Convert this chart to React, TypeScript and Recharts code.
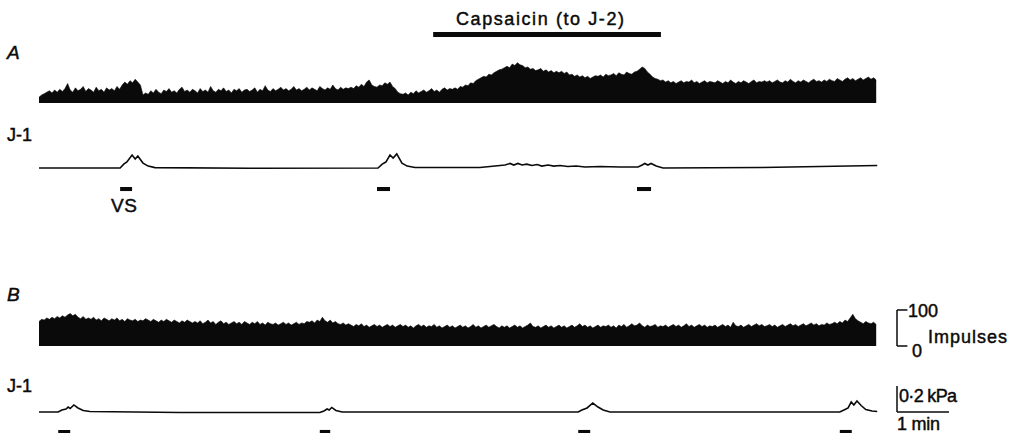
import React from 'react'
import { AreaChart, Area, LineChart, Line, XAxis, YAxis, ReferenceArea, ReferenceLine } from 'recharts'

// time axis in minutes, 1 min = 52 px, plot starts at x = 39
const PX_PER_MIN = 52
const LEFT = 39
const WIDTH = 1023
const X_MAX = (WIDTH - LEFT) / PX_PER_MIN
const BIN_MIN = 0.05

// impulses per bin, panel A (3 s bins, one row per minute)
const histA = [
  16, 22, 26, 30, 34, 28, 36, 30, 38, 32, 40, 54, 36, 30, 42, 34, 38, 46, 32, 40,
  36, 30, 44, 34, 38, 30, 42, 36, 40, 34, 46, 38, 50, 58, 52, 62, 56, 66, 58, 50,
  22, 28, 24, 34, 28, 38, 30, 26, 36, 32, 40, 30, 34, 28, 38, 44, 32, 36, 30, 38,
  34, 28, 40, 32, 36, 30, 46, 34, 30, 38, 34, 42, 32, 36, 28, 38, 34, 40, 30, 36,
  38, 32, 36, 42, 30, 38, 34, 48, 36, 32, 40, 34, 38, 44, 36, 40, 34, 38, 46, 36,
  40, 34, 38, 44, 36, 42, 38, 34, 46, 40, 36, 42, 38, 50, 40, 36, 44, 38, 42, 40,
  44, 40, 48, 44, 52, 46, 58, 64, 50, 46, 44, 50, 48, 56, 52, 58, 46, 40, 30, 26,
  24, 28, 22, 30, 26, 34, 28, 32, 36, 30, 34, 40, 32, 36, 30, 38, 42, 36, 40, 38,
  42, 38, 46, 44, 50, 48, 56, 54, 62, 66, 70, 74, 72, 80, 78, 84, 88, 92, 94, 98,
  102, 98, 108, 104, 112, 106, 104, 98, 100, 94, 96, 90, 92, 96, 88, 92, 86, 90, 84, 88,
  84, 88, 82, 86, 78, 80, 74, 78, 72, 76, 70, 74, 68, 72, 76, 74, 78, 72, 80, 76,
  78, 82, 76, 84, 80, 78, 86, 82, 80, 86, 88, 94, 100, 96, 86, 80, 72, 68, 66, 62,
  64, 58, 62, 56, 60, 54, 58, 62, 56, 60, 58, 64, 56, 60, 54, 58, 62, 56, 60, 58,
  56, 62, 58, 54, 60, 56, 64, 58, 54, 60, 56, 62, 58, 54, 60, 64, 56, 60, 58, 62,
  58, 62, 56, 60, 64, 58, 56, 62, 58, 66, 60, 56, 62, 58, 64, 60, 56, 62, 66, 60,
  62, 58, 64, 60, 66, 62, 60, 68, 64, 60, 66, 70, 64, 68, 62, 66, 70, 64, 68, 72,
  66, 70, 64,
]

// impulses per bin, panel B
const histB = [
  68, 74, 72, 78, 74, 80, 76, 82, 78, 84, 80, 86, 90, 84, 88, 80, 76, 82, 74, 78,
  74, 80, 72, 76, 70, 78, 74, 70, 76, 72, 78, 70, 74, 68, 76, 72, 70, 74, 68, 72,
  70, 76, 72, 68, 74, 70, 66, 72, 68, 74, 70, 66, 72, 68, 64, 70, 66, 72, 68, 64,
  68, 64, 70, 62, 66, 72, 64, 68, 60, 66, 70, 62, 66, 60, 64, 68, 62, 66, 60, 68,
  64, 60, 66, 62, 68, 60, 64, 58, 66, 62, 60, 64, 58, 62, 66, 60, 64, 58, 62, 66,
  60, 64, 62, 68, 66, 70, 64, 72, 68, 80, 70, 66, 72, 64, 68, 62, 60, 64, 58, 62,
  58, 54, 60, 56, 62, 54, 58, 52, 56, 60, 54, 58, 52, 56, 60, 54, 58, 52, 56, 60,
  54, 58, 52, 56, 50, 56, 60, 54, 58, 52, 56, 54, 60, 52, 56, 50, 54, 58, 52, 56,
  50, 54, 58, 52, 56, 50, 54, 60, 52, 56, 50, 54, 58, 52, 56, 60, 54, 50, 56, 52,
  56, 50, 54, 58, 52, 56, 50, 54, 58, 64, 54, 52, 56, 50, 54, 58, 52, 56, 50, 54,
  58, 52, 56, 50, 54, 58, 52, 56, 62, 54, 58, 52, 56, 50, 54, 58, 52, 56, 54, 58,
  52, 56, 50, 58, 54, 60, 52, 56, 62, 56, 58, 64, 56, 52, 58, 54, 56, 60, 52, 56,
  54, 58, 52, 56, 60, 54, 58, 52, 56, 62, 54, 58, 52, 56, 60, 54, 58, 52, 56, 54,
  58, 52, 56, 60, 54, 58, 52, 66, 56, 54, 58, 52, 56, 60, 54, 58, 62, 56, 60, 54,
  56, 60, 54, 58, 52, 56, 60, 54, 58, 62, 56, 60, 54, 58, 62, 56, 60, 64, 58, 62,
  56, 60, 58, 64, 60, 62, 66, 62, 68, 64, 72, 68, 78, 88, 76, 70, 66, 62, 68, 64,
  62, 66, 60,
]

// J-1 pressure (kPa) breakpoints, panel A
const traceATime = [
  0, 1.56, 1.63, 1.69, 1.79, 1.85, 1.9, 2.0, 2.1, 2.23,
  4.06, 6.52, 6.6, 6.67, 6.75, 6.81, 6.88, 6.98, 7.08, 7.23,
  8.48, 8.77, 8.96, 9.06, 9.13, 9.21, 9.29, 9.38, 9.48, 9.58,
  9.67, 9.79, 9.9, 10.02, 10.17, 10.33, 10.5, 10.79, 11.17, 11.52,
  11.6, 11.65, 11.71, 11.77, 11.87, 12.0, 13.87, 16.12,
]
const traceAValue = [
  0, 0, 0.03, 0.046, 0.1, 0.07, 0.092, 0.038, 0.015, 0.003,
  -0.002, 0, 0.03, 0.046, 0.1, 0.077, 0.108, 0.038, 0.015, 0.004,
  0.004, 0.015, 0.023, 0.035, 0.023, 0.035, 0.023, 0.03, 0.019, 0.027,
  0.015, 0.023, 0.015, 0.019, 0.012, 0.015, 0.008, 0.012, 0.008, 0.008,
  0.023, 0.035, 0.023, 0.035, 0.015, 0, 0.004, 0.019,
]

// J-1 pressure (kPa) breakpoints, panel B
const traceBTime = [
  0, 0.37, 0.44, 0.52, 0.56, 0.6, 0.67, 0.75, 0.85, 0.98,
  2.71, 5.4, 5.48, 5.54, 5.58, 5.63, 5.71, 5.83, 10.37, 10.44,
  10.54, 10.65, 10.75, 10.85, 10.98, 15.4, 15.5, 15.56, 15.62, 15.67,
  15.73, 15.81, 15.9, 16.02, 16.12,
]
const traceBValue = [
  0, 0, 0.015, 0.023, 0.038, 0.027, 0.054, 0.031, 0.012, 0.004,
  -0.004, -0.004, 0.008, 0.023, 0.015, 0.035, 0.012, 0, 0, 0.015,
  0.031, 0.069, 0.038, 0.015, 0, 0, 0.019, 0.031, 0.077, 0.054,
  0.085, 0.05, 0.019, 0.008, 0.004,
]

// vagal stimulation periods (min)
const stimA = [[1.56, 1.79], [6.5, 6.75], [11.5, 11.77]]
const stimB = [[0.37, 0.6], [5.4, 5.6], [10.37, 10.6], [15.4, 15.63]]
const capsaicin = [7.58, 11.96]
const scaleT = 16.5

const INK = '#0a0a0a'
const FONT = '"Liberation Sans", Arial, Helvetica, sans-serif'

const dataHistA = histA.map((v, i) => ({ t: +(i * BIN_MIN).toFixed(2), imp: v }))
const dataHistB = histB.map((v, i) => ({ t: +(i * BIN_MIN).toFixed(2), imp: v }))
const dataTraceA = traceATime.map((t, i) => ({ t, p: traceAValue[i] }))
const dataTraceB = traceBTime.map((t, i) => ({ t, p: traceBValue[i] }))

const xAxis = <XAxis dataKey="t" type="number" domain={[0, X_MAX]} hide allowDataOverflow />

function Strip({ top, height, children }: { top: number; height: number; children: React.ReactNode }) {
  return <div style={{ position: 'absolute', left: 0, top, width: WIDTH, height }}>{children}</div>
}

export default function App() {
  const margin = { top: 0, right: 0, bottom: 0, left: LEFT }
  const txt = { fill: INK, stroke: INK, strokeWidth: 0.45 }
  return (
    <div style={{ position: 'absolute', left: 0, top: 0, width: WIDTH, height: 433, background: '#fff', overflow: 'hidden' }}>
      {/* A: impulses histogram, baseline y=103, 0.36 px per impulse */}
      <Strip top={0} height={110}>
        <AreaChart width={WIDTH} height={110} data={dataHistA} margin={{ ...margin, bottom: 7 }}>
          {xAxis}
          <YAxis hide domain={[0, 286]} allowDataOverflow />
          <ReferenceArea x1={capsaicin[0]} x2={capsaicin[1]} y1={183} y2={197} fill={INK} fillOpacity={1} stroke="none" ifOverflow="visible" />
          <Area dataKey="imp" type="linear" stroke={INK} strokeWidth={0.6} fill={INK} fillOpacity={1} isAnimationActive={false} />
        </AreaChart>
      </Strip>

      {/* A: J-1 pressure */}
      <Strip top={110} height={115}>
        <LineChart width={WIDTH} height={115} data={dataTraceA} margin={margin}>
          {xAxis}
          <YAxis hide domain={[-0.438, 0.446]} allowDataOverflow />
          {stimA.map(([a, b], i) => (
            <ReferenceArea key={i} x1={a} x2={b} y1={-0.177} y2={-0.146} fill={INK} fillOpacity={1} stroke="none" ifOverflow="visible" />
          ))}
          <Line dataKey="p" type="linear" stroke={INK} strokeWidth={1.6} dot={false} isAnimationActive={false} />
        </LineChart>
      </Strip>

      {/* B: impulses histogram, baseline y=346 */}
      <Strip top={225} height={130}>
        <AreaChart width={WIDTH} height={130} data={dataHistB} margin={{ ...margin, bottom: 9 }}>
          {xAxis}
          <YAxis hide domain={[0, 336]} allowDataOverflow />
          <Area dataKey="imp" type="linear" stroke={INK} strokeWidth={0.6} fill={INK} fillOpacity={1} isAnimationActive={false} />
          <ReferenceLine segment={[{ x: scaleT, y: 0 }, { x: scaleT, y: 100 }]} stroke={INK} strokeWidth={1.5} ifOverflow="visible" />
          <ReferenceLine segment={[{ x: scaleT, y: 0 }, { x: scaleT + 0.2, y: 0 }]} stroke={INK} strokeWidth={1.5} ifOverflow="visible" />
          <ReferenceLine segment={[{ x: scaleT, y: 100 }, { x: scaleT + 0.2, y: 100 }]} stroke={INK} strokeWidth={1.5} ifOverflow="visible" />
        </AreaChart>
      </Strip>

      {/* B: J-1 pressure */}
      <Strip top={355} height={78}>
        <LineChart width={WIDTH} height={78} data={dataTraceB} margin={margin}>
          {xAxis}
          <YAxis hide domain={[-0.1615, 0.438]} allowDataOverflow />
          {stimB.map(([a, b], i) => (
            <ReferenceArea key={i} x1={a} x2={b} y1={-0.2} y2={-0.138} fill={INK} fillOpacity={1} stroke="none" ifOverflow="visible" />
          ))}
          <ReferenceLine segment={[{ x: scaleT, y: 0 }, { x: scaleT, y: 0.2 }]} stroke={INK} strokeWidth={1.5} ifOverflow="visible" />
          <ReferenceLine segment={[{ x: scaleT, y: 0 }, { x: scaleT + 1, y: 0 }]} stroke={INK} strokeWidth={1.5} ifOverflow="visible" />
          <Line dataKey="p" type="linear" stroke={INK} strokeWidth={1.6} dot={false} isAnimationActive={false} />
        </LineChart>
      </Strip>

      <svg width={WIDTH} height={433} style={{ position: 'absolute', left: 0, top: 0, pointerEvents: 'none' }} fontFamily={FONT}>
        <text {...txt} x={456} y={25} fontSize={18} textLength={168} lengthAdjust="spacing">Capsaicin (to J-2)</text>
        <text {...txt} x={7} y={59} fontSize={19} fontStyle="italic">A</text>
        <text {...txt} x={7} y={141} fontSize={18}>J-1</text>
        <text {...txt} x={111} y={212} fontSize={19} textLength={26} lengthAdjust="spacing">VS</text>
        <text {...txt} x={7} y={301} fontSize={19} fontStyle="italic">B</text>
        <text {...txt} x={7} y={392} fontSize={18}>J-1</text>
        <text {...txt} x={908} y={317} fontSize={18}>100</text>
        <text {...txt} x={912} y={357} fontSize={18}>0</text>
        <text {...txt} x={928} y={343} fontSize={18} textLength={79} lengthAdjust="spacing">Impulses</text>
        <text {...txt} x={899} y={402} fontSize={18} textLength={58} lengthAdjust="spacing">0·2 kPa</text>
        <text {...txt} x={897} y={430} fontSize={18} textLength={43} lengthAdjust="spacing">1 min</text>
      </svg>
    </div>
  )
}
